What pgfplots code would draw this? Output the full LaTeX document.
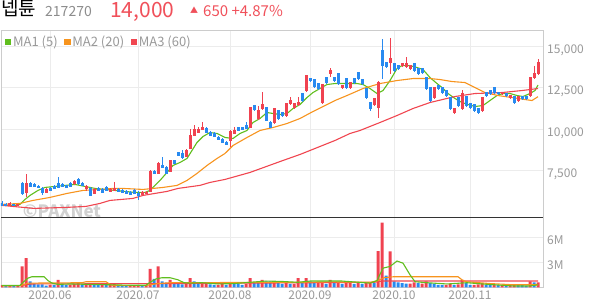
\documentclass[border=0pt]{standalone}
\usepackage{fontspec}
\setmainfont{Noto Sans CJK KR}
\usepackage{pgfplots}
\usepackage{pgfplotstable}
\pgfplotsset{compat=1.18}
\definecolor{upred}{RGB}{240,66,80}
\definecolor{dnblue}{RGB}{40,138,240}
\definecolor{magreen}{RGB}{96,190,30}
\definecolor{maorange}{RGB}{247,148,30}
\definecolor{mared}{RGB}{240,70,80}
\definecolor{gridc}{RGB}{236,236,236}
\definecolor{bordc}{RGB}{204,204,204}
\definecolor{labc}{RGB}{153,153,153}
\definecolor{headred}{RGB}{240,80,90}

\pgfplotstableread{
i o h l c
-10 5392 5570 5330 5512
-8 5400 5500 5350 5450
-6 6175 7259 5874 6717
-1 6175 6416 6114 6355
6 6717 6900 6650 6837
9 6416 6596 6235 6536
11 6114 6416 6054 6355
15 6235 6416 6175 6355
16 6295 6777 6235 6416
23 6054 6235 5994 6175
24 6114 6235 6054 6175
25 6235 7500 6175 7440
27 7319 7980 7259 7922
30 7440 8160 7380 8102
34 8343 8765 8283 8705
35 8825 9970 8765 9608
36 9608 10270 9550 9970
37 9789 10150 9730 9970
38 9970 10392 9910 10090
45 9307 9910 8886 9850
46 9730 10150 9670 9910
50 10090 11355 10030 11295
52 10633 11416 10572 11114
53 11235 12260 11175 11476
56 10392 11295 10330 11235
59 10813 11596 10753 11536
60 11536 11958 11476 11717
61 11295 11596 11235 11536
62 11476 11958 11416 11596
64 12319 13283 12260 13223
68 11596 12741 11536 12680
70 13343 13705 13163 13524
73 12500 12680 12440 12620
75 12500 12862 12440 12800
81 11476 11898 11416 11838
82 11295 12922 10692 12800
85 14006 15510 13343 14247
88 13825 14006 13765 13946
89 13765 14367 13705 13946
90 13644 13885 13584 13825
96 11898 12560 11838 12500
101 10994 11295 10934 11235
103 11235 12380 11175 12139
108 11114 11958 11054 11898
113 12139 12260 12079 12199
115 11898 12079 11838 12018
117 11717 12018 11657 11958
120 12018 13163 11958 13102
121 13102 13825 13042 13350
122 13350 14250 13283 14000
}\up

\pgfplotstableread{
i o h l c
-12 5512 5630 5330 5392
-11 5450 5512 5330 5392
-9 5450 5500 5350 5400
-7 6717 6777 5994 6114
-5 6717 6777 6476 6536
-4 6650 6717 6476 6536
-3 6536 6596 6416 6476
-2 6416 6476 5994 6175
0 6416 6476 6235 6295
1 6536 6596 6355 6416
2 6717 7078 6416 6476
3 6650 6717 6476 6536
4 6596 6650 6416 6476
5 6717 6777 6476 6536
7 6958 7018 6650 6717
8 6717 6777 6536 6596
10 6416 6476 5934 5994
12 6416 6476 6235 6295
13 6355 6416 6114 6175
14 6476 6536 6235 6295
17 6355 6416 6175 6235
18 6295 6355 6114 6175
19 6235 6295 6054 6114
20 6175 6235 5994 6054
21 6295 6355 6054 6114
22 6114 6235 5693 5994
26 7440 7500 7259 7319
28 7801 8283 7620 7681
29 7681 7740 7259 7319
31 8102 8160 7860 7922
32 8584 8640 8343 8404
33 8524 8705 8220 8283
39 10030 10090 9730 9789
40 9789 9850 9550 9608
41 9730 9789 9488 9550
42 9488 9550 9307 9367
43 9367 9430 9126 9187
44 9187 9250 9006 9066
47 10090 10150 9850 9910
48 10090 10150 9910 9970
49 10211 10392 9970 10030
51 11416 11476 11114 11175
54 11295 11355 10452 10512
55 10392 10452 10030 10090
57 11114 11175 10572 10633
58 10994 11054 10753 10813
63 12139 12199 11657 11717
65 13042 13102 12862 12922
66 12982 13042 12500 12560
67 12741 12800 12380 12440
69 13102 13163 12741 12800
71 13102 13163 12862 12922
72 13343 13400 12680 12741
74 13042 13102 12440 12500
76 13042 13102 12741 12800
77 13403 13463 12982 13042
78 12982 13042 12680 12741
79 12440 12500 11838 11898
80 11596 11657 11114 11235
83 14728 15450 13042 13825
84 14006 14066 13705 13765
86 13946 14006 13463 13524
87 13825 13885 13584 13644
91 13946 14006 13463 13524
92 13644 13705 13283 13343
93 13644 13705 13343 13403
94 13102 13163 12380 12440
95 12500 12560 11657 11717
97 12620 12680 12380 12440
98 12500 12560 12139 12199
99 12319 12380 11958 12018
100 11898 11958 11175 11235
102 11898 11958 11355 11416
104 11958 12018 11355 11416
105 11536 11596 11235 11295
106 11476 11536 11054 11114
107 11235 11295 10934 10994
109 12199 12260 11958 12018
110 12319 12380 12079 12139
111 12500 12560 12139 12199
112 12199 12260 12079 12139
114 12139 12199 11958 12018
116 11958 12018 11536 11596
118 11958 12018 11778 11838
119 11958 12018 11778 11838
}\dn

\pgfplotstableread{
i v
-12 0.25
-10 0.25
-8 0.25
-7 2.5
-6 3.5
0 0.3
2 0.9
5 0.3
6 0.4
7 0.5
9 0.35
10 0.5
13 0.3
15 0.3
16 0.45
20 0.2
21 0.25
22 0.3
24 0.3
25 2.2
27 2.5
30 0.9
34 0.4
35 1.1
38 0.5
39 0.5
42 0.3
43 0.4
45 0.6
49 0.4
50 1.1
53 0.9
56 0.7
59 0.6
61 0.4
62 1.1
64 1.1
67 0.5
68 0.6
70 0.9
72 0.6
74 0.5
75 0.5
77 0.5
79 0.5
80 0.6
82 4.35
83 7.75
85 4.3
90 0.45
91 0.6
93 0.45
94 0.7
99 0.3
100 0.4
102 0.35
103 0.9
106 0.3
107 0.35
108 0.5
111 0.3
113 0.25
115 0.25
116 0.3
120 0.7
122 0.6
}\vup

\pgfplotstableread{
i v
-11 0.2
-9 0.2
-5 0.7
-4 0.45
-3 0.35
-2 0.35
-1 0.2
1 0.25
3 0.4
4 0.25
8 0.3
11 0.35
12 0.3
14 0.25
17 0.3
18 0.25
19 0.2
23 0.25
26 1.0
28 0.7
29 0.55
31 0.6
32 0.4
33 0.35
36 0.7
37 0.4
40 0.35
41 0.3
44 0.3
46 0.5
47 0.4
48 0.3
51 0.6
52 0.5
54 0.7
55 0.7
57 0.5
58 0.4
60 0.4
63 0.5
65 0.7
66 0.5
69 0.4
71 0.6
73 0.4
76 0.4
78 0.4
81 0.5
84 1.4
86 0.7
87 0.6
88 0.5
89 0.45
92 0.5
95 0.5
96 0.45
97 0.3
98 0.3
101 0.3
104 0.5
105 0.3
109 0.3
110 0.3
112 0.25
114 0.2
117 0.3
118 0.25
119 0.2
121 0.6
}\vdn

\newcommand\lf{\fontsize{12}{12}\selectfont}
\newcommand\lgf{\fontsize{13}{13}\selectfont}

\begin{document}
\begin{tikzpicture}[x=1pt,y=1pt]
\useasboundingbox (0,0) rectangle (594,304);

% header
\node[anchor=base west, inner sep=0pt] at (1,288) {\fontsize{19}{19}\selectfont 넵튠};
\node[anchor=base west, inner sep=0pt, text=gray!90] at (45,287.5) {\fontsize{14}{14}\selectfont 217270};
\node[anchor=base west, inner sep=0pt, text=headred] at (110,286.5) {\fontsize{21}{21}\selectfont 14,000};
\node[anchor=base west, inner sep=0pt, text=headred] at (190,290) {\fontsize{8}{8}\selectfont ▲};
\node[anchor=base west, inner sep=0pt, text=headred] at (203,287.5) {\fontsize{15}{15}\selectfont 650 +4.87\%};

\begin{axis}[
  name=price,
  at={(1pt,86.5pt)}, anchor=south west,
  scale only axis, width=542pt, height=187.5pt,
  xmin=-12.25, xmax=123.25, ymin=4663, ymax=15970,
  axis line style={draw=bordc, line width=0.8pt},
  xtick={0,22,45,65,86,105}, xticklabels={},
  ytick={7500,10000,12500,15000},
  yticklabels={{7,500},{10,000},{12,500},{15,000}},
  scaled y ticks=false,
  yticklabel pos=right,
  yticklabel style={anchor=north west, inner sep=0pt, xshift=4pt, yshift=1.5pt, font=\lf, text=labc},
  major tick length=0pt,
  grid=major, grid style={draw=gridc, line width=0.8pt},
  legend columns=3,
  legend style={at={(0,1)}, anchor=north west, xshift=4pt, yshift=-3.5pt, draw=none, fill=none,
    font=\lgf, text=labc, inner sep=0pt, nodes={inner sep=1.8pt},
    /tikz/every even column/.append style={column sep=5pt}},
  legend image code/.code={\fill[#1] (0pt,-2.5pt) rectangle (5pt,2.5pt);},
]
\node[text=black!18, font=\bfseries\itshape\fontsize{17}{17}\selectfont, anchor=center] at (axis cs:3,5050) {©PAXNet};

\addplot[magreen, line width=1.1pt] coordinates {
(-12,5392) (-8.75,5392) (-7.5,5452) (-6.25,5753) (-5,5994) (-3,6295) (-1.25,6476)
(1.25,6536) (3.75,6596) (6.25,6657) (8.75,6536) (11.25,6416) (13.75,6355) (16.25,6295)
(18.75,6235) (21.25,6175) (23.75,6175) (25,6295) (25.75,6476) (27.5,6898) (29.25,7379)
(30.75,7801) (32.5,7982) (34.25,8223) (35.5,8705) (36.75,9187) (38.25,9548) (40,9789)
(41.75,9729) (43.75,9488) (45.75,9428) (47.5,9729) (49.25,9910) (50.75,10392) (52.5,10633)
(54.25,10994) (55.75,10934) (57.5,10874) (59.25,10934) (60.75,11235) (62.5,11476)
(64.25,11898) (65.75,12199) (67.5,12440) (69.25,12681) (71.25,12741) (73.25,12741)
(76.75,12741) (78.25,12681) (80,12440) (81.75,12139) (83.25,12319) (85,12922) (86.75,13644)
(88,13825) (90,13825) (91.75,13705) (93.25,13584) (95,13102) (96.75,12741) (98,12500)
(99.5,12139) (101.25,11837) (103,11596) (104.5,11476) (106.25,11355) (108.25,11416)
(110,11717) (111.75,12018) (113.25,12139) (115,12139) (116.75,12018) (118.25,11958)
(120,12139) (121.25,12319) (122,12650)};
\addlegendentry{MA1 (5)}
\addplot[maorange, line width=1.1pt] coordinates {
(-12,5452) (-7.5,5512) (-4.25,5693) (0,5874) (4.25,6114) (8.25,6295) (12.5,6355)
(15.75,6416) (18.25,6416) (23.25,6355) (25.75,6416) (28.25,6476) (31.75,6596) (34.25,6898)
(36.75,7320) (39.25,7801) (41.75,8223) (43.75,8524) (45.75,9006) (49.25,9488) (52.5,9910)
(55.75,10090) (59.25,10331) (62.5,10633) (65.75,11054) (69.25,11476) (71.25,11717)
(74.25,12018) (78.25,12440) (82.5,12741) (86.75,12922) (90.75,13042) (95,13042)
(97.5,12982) (100.5,12862) (103.75,12801) (106.25,12500) (108.75,12199) (112,12018)
(115.5,11898) (118.75,11777) (120.5,11717) (122,11950)};
\addlegendentry{MA2 (20)}
\addplot[mared, line width=1.1pt] coordinates {
(-12,5392) (-4,5211) (4,5271) (9,5331) (12.5,5512) (15,5693) (20.75,5813) (23.25,5994)
(29.25,6235) (32,6416) (37.5,6600) (40,6777) (43.75,6958) (50,7380) (58.25,8102)
(62.5,8464) (71.25,9307) (75,9729) (77.5,9910) (82.5,10392) (86.75,10813) (90.75,11235)
(95,11596) (101.25,11958) (106.25,12139) (113,12199) (118,12319) (122,12440)};
\addlegendentry{MA3 (60)}

% wicks
\addplot[draw=none, mark=none, forget plot,
  error bars/.cd, y dir=both, y explicit, error mark=none,
  error bar style={draw=upred, line width=0.9pt}]
  table[x=i, y expr={(\thisrow{h}+\thisrow{l})/2}, y error expr={(\thisrow{h}-\thisrow{l})/2}] {\up};
\addplot[draw=none, mark=none, forget plot,
  error bars/.cd, y dir=both, y explicit, error mark=none,
  error bar style={draw=dnblue, line width=0.9pt}]
  table[x=i, y expr={(\thisrow{h}+\thisrow{l})/2}, y error expr={(\thisrow{h}-\thisrow{l})/2}] {\dn};
% bodies
\addplot[draw=none, mark=none, forget plot,
  error bars/.cd, y dir=both, y explicit, error mark=none,
  error bar style={draw=upred, line width=3pt}]
  table[x=i, y expr={(\thisrow{o}+\thisrow{c})/2}, y error expr={abs(\thisrow{c}-\thisrow{o})/2+20}] {\up};
\addplot[draw=none, mark=none, forget plot,
  error bars/.cd, y dir=both, y explicit, error mark=none,
  error bar style={draw=dnblue, line width=3pt}]
  table[x=i, y expr={(\thisrow{o}+\thisrow{c})/2}, y error expr={abs(\thisrow{c}-\thisrow{o})/2+20}] {\dn};
\end{axis}

\begin{axis}[
  name=vol,
  at={(1pt,16.7pt)}, anchor=south west,
  scale only axis, width=542pt, height=69.8pt,
  xmin=-12.25, xmax=123.25, ymin=0, ymax=8.376,
  axis line style={draw=bordc, line width=0.8pt},
  xtick={0,22,45,65,86,105},
  xticklabels={2020.06,2020.07,2020.08,2020.09,2020.10,2020.11},
  xticklabel style={anchor=north, inner sep=0pt, yshift=-3.5pt, font=\lf, text=labc},
  ytick={3,6}, yticklabels={3M,6M},
  scaled y ticks=false,
  yticklabel pos=right,
  yticklabel style={anchor=north west, inner sep=0pt, xshift=4pt, yshift=2pt, font=\lf, text=labc},
  major tick length=0pt,
  grid=major, grid style={draw=gridc, line width=0.8pt},
]
\addplot[ybar, bar width=3pt, bar shift=0pt, fill=upred, draw=none, forget plot] table[x=i,y=v] {\vup};
\addplot[ybar, bar width=3pt, bar shift=0pt, fill=dnblue, draw=none, forget plot] table[x=i,y=v] {\vdn};
\addplot[mared, line width=1.1pt, forget plot] coordinates {
(-12,0.2) (-7.5,0.2) (-6,0.3) (-5,0.4) (30,0.45) (50,0.5) (81,0.6) (83,0.75) (122,0.75)};
\addplot[maorange, line width=1.1pt, forget plot] coordinates {
(-12,0.18) (-7.5,0.2) (-6.5,0.33) (-5.5,0.5) (8,0.55) (9,0.67) (14,0.67) (15,0.35) (16,0.2)
(24,0.2) (25,0.3) (27,0.45) (30,0.55) (62,0.6) (70,0.65) (80,0.6) (82,0.8) (83.5,1.15)
(86,1.27) (102,1.27) (103,0.9) (104,0.67) (110,0.45) (116,0.3) (122,0.3)};
\addplot[magreen, line width=1.1pt, forget plot] coordinates {
(-12,0.22) (-7.5,0.22) (-6.5,0.7) (-5.5,1.1) (-4.5,1.27) (-1.5,1.27) (-0.5,0.8) (0.5,0.5)
(2,0.35) (5,0.4) (10,0.35) (15,0.3) (20,0.25) (24,0.25) (25,0.6) (26.5,1.0) (28,1.15)
(30,1.15) (32,0.9) (33.5,0.55) (35,0.5) (38,0.55) (42,0.4) (46,0.45) (50,0.6) (54,0.75)
(58,0.7) (62,0.6) (65,0.75) (73,0.75) (80,0.5) (81.75,0.8) (83.25,2.3) (85,2.5)
(86.75,3.15) (88.25,2.9) (90,1.5) (91.25,0.67) (94.25,0.55) (99.25,0.4) (104.25,0.55)
(108,0.4) (115.75,0.16) (120,0.16) (122,0.3)};
\end{axis}
\draw[black!80, line width=1pt] (price.south west) -- (price.south east);
\end{tikzpicture}
\end{document}
